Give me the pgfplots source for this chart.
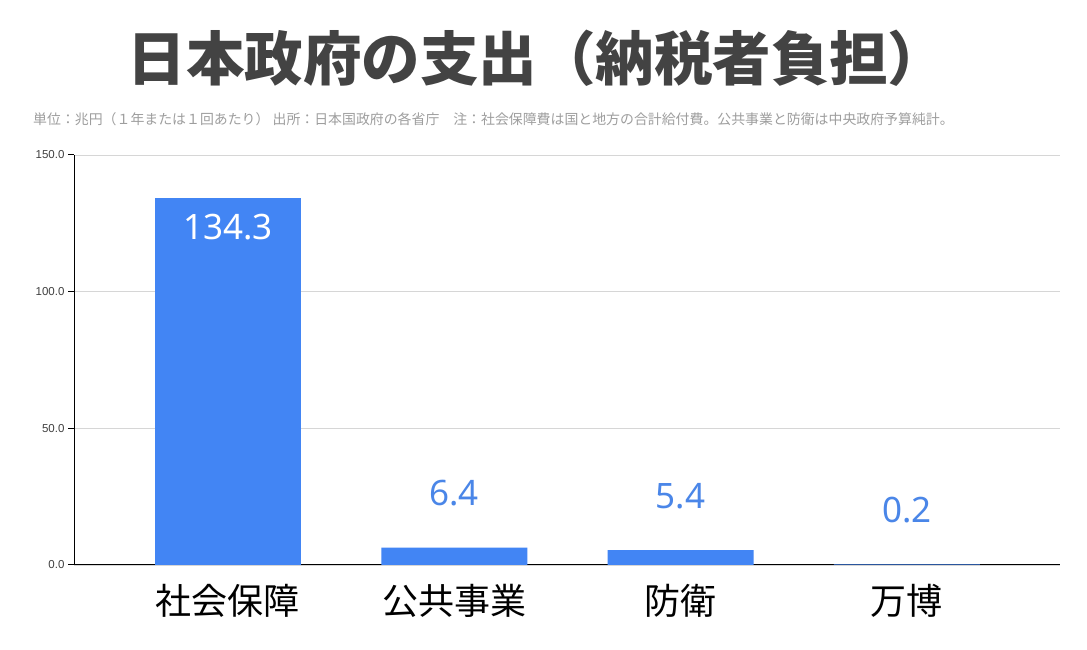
\documentclass[border=0pt]{standalone}
\usepackage{pgfplots}
\pgfplotsset{compat=1.18}
\usepackage{fontspec}
\setmainfont{Liberation Sans}
\newfontfamily\cjk{Noto Sans CJK JP}
\newfontfamily\numfont{Noto Sans}
\definecolor{barblue}{HTML}{4285F4}
\definecolor{lblblue}{HTML}{4A86E8}
\definecolor{titlegray}{HTML}{434343}
\definecolor{subgray}{HTML}{9E9E9E}
\definecolor{gridgray}{HTML}{D6D6D6}

\begin{document}
\begin{tikzpicture}[x=1pt,y=1pt]
\path[use as bounding box, fill=white] (0,0) rectangle (1087,650);

% title and note
\node[text=titlegray, font=\cjk\bfseries\fontsize{58.5}{62}\selectfont] at (537,592) {日本政府の支出（納税者負担）};
\node[anchor=west, inner sep=0pt, text=subgray, font=\cjk\fontsize{13.9}{16}\selectfont] at (33,531)
  {単位：兆円（１年または１回あたり） 出所：日本国政府の各省庁　注：社会保障費は国と地方の合計給付費。公共事業と防衛は中央政府予算純計。};

\begin{axis}[
  at={(74pt,85pt)}, anchor=south west,
  scale only axis, width=986pt, height=410pt,
  xmin=-0.68, xmax=3.676, ymin=0, ymax=150,
  axis lines*=left,
  axis line style={black, line width=1pt},
  xtick={0,1,2,3},
  xticklabels={社会保障,公共事業,防衛,万博},
  xtick style={draw=none},
  xticklabel style={font=\cjk\fontsize{36}{40}\selectfont, anchor=base, yshift=-43.5pt},
  ytick={0,50,100,150},
  ymajorgrids,
  grid style={gridgray, line width=0.8pt},
  tick align=outside,
  major tick length=6pt,
  ytick style={black, line width=1pt},
  yticklabel style={font=\fontsize{11.5}{13}\selectfont, text=black!75,
    /pgf/number format/fixed, /pgf/number format/fixed zerofill, /pgf/number format/precision=1},
  /pgf/number format/assume math mode=true,
]

% social security: label inside the bar
\addplot[ybar, bar width=146pt, bar shift=0pt, fill=barblue, draw=none,
  nodes near coords,
  nodes near coords style={font=\numfont\fontsize{35}{40}\selectfont, text=white, anchor=base, yshift=-42pt}]
  coordinates {(0,134.3)};

% the rest: labels above
\addplot[ybar, bar width=146pt, bar shift=0pt, fill=barblue, draw=none,
  nodes near coords,
  nodes near coords style={font=\numfont\fontsize{35}{40}\selectfont, text=lblblue, anchor=base, yshift=42pt}]
  coordinates {(1,6.4) (2,5.4) (3,0.2)};

\end{axis}
\end{tikzpicture}
\end{document}
